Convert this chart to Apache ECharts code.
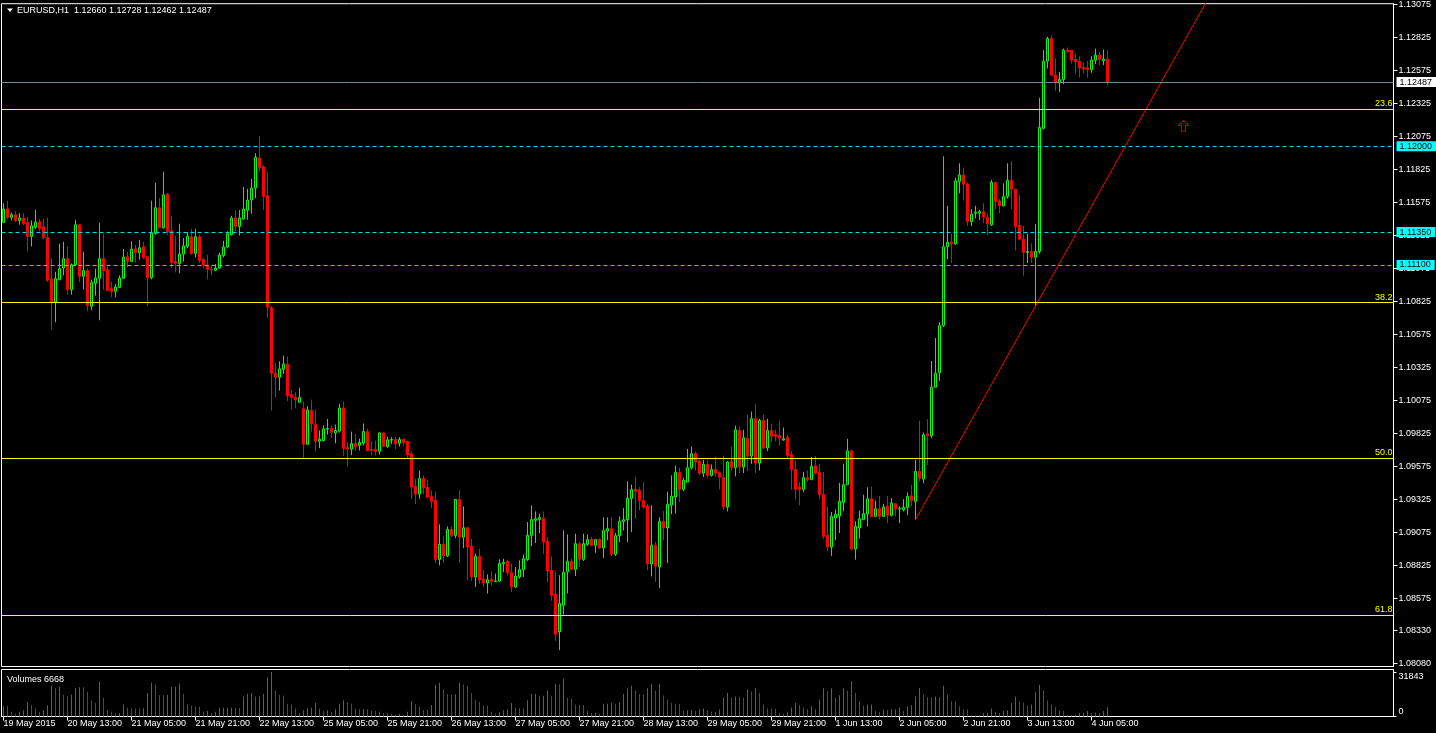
<!DOCTYPE html>
<html><head><meta charset="utf-8">
<script src="https://cdn.jsdelivr.net/npm/echarts@6/dist/echarts.min.js"></script>
<style>html,body{margin:0;padding:0;background:#000;overflow:hidden}#c{width:1436px;height:733px}</style>
</head><body><div id="c"></div>
<script>
const symbolName = 'EURUSD,H1';
const opens = [1.11423,1.11526,1.11461,1.11481,1.11438,1.11456,1.11423,1.11317,1.11385,1.11428,
1.11390,1.11307,1.10994,1.10820,1.10989,1.11077,1.11148,1.10913,1.11102,1.11405,
1.11014,1.11057,1.10787,1.10961,1.10999,1.11148,1.11064,1.10921,1.10900,1.10931,
1.10999,1.11163,1.11127,1.11223,1.11193,1.11239,1.11163,1.11004,1.11339,1.11534,
1.11382,1.11637,1.11360,1.11127,1.11112,1.11183,1.11241,1.11314,1.11188,1.11314,
1.11140,1.11100,1.11067,1.11059,1.11077,1.11173,1.11236,1.11329,1.11456,1.11392,
1.11450,1.11516,1.11594,1.11683,1.11912,1.11844,1.11625,1.10776,1.10279,1.10249,
1.10309,1.10349,1.10117,1.10097,1.10059,1.10011,1.09741,1.09996,1.09890,1.09764,
1.09769,1.09855,1.09860,1.09827,1.09840,1.10016,1.09716,1.09704,1.09746,1.09734,
1.09749,1.09837,1.09701,1.09701,1.09688,1.09827,1.09724,1.09772,1.09777,1.09749,
1.09779,1.09762,1.09668,1.09421,1.09363,1.09481,1.09413,1.09345,1.09315,1.08868,
1.08982,1.08894,1.09095,1.09050,1.09323,1.09037,1.09108,1.08967,1.08735,1.08891,
1.08719,1.08689,1.08717,1.08700,1.08704,1.08836,1.08853,1.08767,1.08659,1.08735,
1.08790,1.08868,1.09050,1.09164,1.09171,1.09179,1.09005,1.08785,1.08604,1.08320,
1.08520,1.08773,1.08854,1.08793,1.08987,1.08869,1.08982,1.09020,1.08975,1.09020,
1.08955,1.09083,1.09101,1.08907,1.09048,1.09156,1.09169,1.09331,1.09399,1.09391,
1.09315,1.09272,1.08833,1.08975,1.08811,1.09156,1.09106,1.09280,1.09341,1.09527,
1.09399,1.09454,1.09563,1.09671,1.09611,1.09522,1.09588,1.09505,1.09550,1.09525,
1.09490,1.09265,1.09611,1.09563,1.09845,1.09568,1.09787,1.09651,1.09934,1.09598,
1.09921,1.09712,1.09845,1.09815,1.09807,1.09772,1.09792,1.09664,1.09550,1.09416,
1.09399,1.09487,1.09474,1.09578,1.09527,1.09361,1.09051,1.08962,1.09182,1.09197,
1.09300,1.09434,1.09691,1.08947,1.09106,1.09169,1.09212,1.09328,1.09194,1.09252,
1.09194,1.09270,1.09202,1.09290,1.09250,1.09244,1.09262,1.09350,1.09308,1.09535,
1.09477,1.09820,1.09805,1.10173,1.10284,1.10640,1.11240,1.11273,1.11260,1.11732,
1.11782,1.11714,1.11429,1.11492,1.11492,1.11503,1.11462,1.11404,1.11727,1.11586,
1.11550,1.11618,1.11742,1.11674,1.11401,1.11295,1.11195,1.11202,1.11159,1.11202,
1.12136,1.12645,1.12817,1.12539,1.12481,1.12507,1.12729,1.12729,1.12660,1.12645,
1.12597,1.12595,1.12582,1.12653,1.12691,1.12648,1.12660];
const highs = [1.11569,1.11587,1.11496,1.11509,1.11493,1.11493,1.11463,1.11438,1.11519,1.11450,
1.11450,1.11458,1.11148,1.11049,1.11261,1.11276,1.11239,1.11112,1.11443,1.11410,
1.11201,1.11072,1.10989,1.11072,1.11420,1.11337,1.11090,1.10971,1.10956,1.11022,
1.11221,1.11201,1.11279,1.11254,1.11289,1.11276,1.11163,1.11587,1.11723,1.11607,
1.11806,1.11645,1.11473,1.11322,1.11413,1.11304,1.11350,1.11375,1.11375,1.11329,
1.11153,1.11178,1.11092,1.11107,1.11193,1.11284,1.11355,1.11473,1.11516,1.11516,
1.11693,1.11678,1.11753,1.11948,1.12079,1.11859,1.11809,1.10790,1.10354,1.10370,
1.10412,1.10405,1.10155,1.10135,1.10170,1.10064,1.10029,1.10079,1.10004,1.09845,
1.09883,1.09933,1.09883,1.09890,1.10047,1.10064,1.09756,1.09837,1.09819,1.09784,
1.09898,1.09860,1.09762,1.09769,1.09830,1.09830,1.09799,1.09794,1.09799,1.09794,
1.09784,1.09769,1.09688,1.09479,1.09542,1.09504,1.09471,1.09391,1.09383,1.09133,
1.09042,1.09118,1.09118,1.09325,1.09391,1.09270,1.09108,1.09025,1.08911,1.08949,
1.08790,1.08755,1.08778,1.08760,1.08868,1.08873,1.08866,1.08836,1.08810,1.08861,
1.08904,1.09151,1.09277,1.09232,1.09214,1.09232,1.09037,1.08891,1.08778,1.08748,
1.09088,1.09058,1.08874,1.09063,1.09000,1.09063,1.09058,1.09038,1.09020,1.09025,
1.09187,1.09187,1.09187,1.09068,1.09194,1.09257,1.09459,1.09436,1.09497,1.09416,
1.09452,1.09290,1.09278,1.09000,1.09187,1.09235,1.09381,1.09505,1.09580,1.09563,
1.09487,1.09706,1.09724,1.09686,1.09626,1.09623,1.09618,1.09588,1.09648,1.09535,
1.09656,1.09613,1.09724,1.09883,1.09876,1.09850,1.09966,1.09989,1.10047,1.09934,
1.09966,1.09934,1.09898,1.09853,1.09921,1.09868,1.09812,1.09689,1.09618,1.09454,
1.09530,1.09542,1.09643,1.09653,1.09593,1.09530,1.09265,1.09227,1.09247,1.09447,
1.09593,1.09782,1.09700,1.09156,1.09239,1.09358,1.09416,1.09421,1.09313,1.09350,
1.09290,1.09350,1.09333,1.09295,1.09270,1.09325,1.09376,1.09434,1.09623,1.09918,
1.09830,1.09931,1.10372,1.10546,1.10667,1.11924,1.11548,1.11336,1.11762,1.11871,
1.11838,1.11724,1.11523,1.11548,1.11518,1.11568,1.11492,1.11745,1.11730,1.11601,
1.11719,1.11871,1.11888,1.11680,1.11631,1.11396,1.11336,1.11265,1.11412,1.12368,
1.12729,1.12830,1.12842,1.12665,1.12565,1.12741,1.12749,1.12729,1.12703,1.12683,
1.12635,1.12648,1.12683,1.12741,1.12716,1.12734,1.12728];
const lows = [1.11418,1.11450,1.11438,1.11425,1.11405,1.11405,1.11203,1.11241,1.11375,1.11355,
1.11294,1.10971,1.10610,1.10666,1.10984,1.11022,1.10875,1.10875,1.11090,1.10969,
1.10913,1.10749,1.10757,1.10868,1.10681,1.10913,1.10900,1.10855,1.10855,1.10926,
1.10996,1.11082,1.11122,1.11120,1.11140,1.11148,1.10787,1.10991,1.11329,1.11380,
1.11375,1.11329,1.11077,1.11044,1.11037,1.11127,1.11228,1.11178,1.11158,1.11115,
1.11077,1.10991,1.11022,1.11052,1.11072,1.11158,1.11228,1.11322,1.11355,1.11324,
1.11443,1.11443,1.11488,1.11607,1.11809,1.11519,1.10699,1.09996,1.10097,1.10148,
1.10274,1.10067,1.10004,1.10014,1.10057,1.09630,1.09736,1.09837,1.09686,1.09711,
1.09762,1.09815,1.09787,1.09749,1.09830,1.09650,1.09572,1.09658,1.09693,1.09693,
1.09731,1.09686,1.09656,1.09656,1.09663,1.09719,1.09714,1.09744,1.09704,1.09724,
1.09731,1.09638,1.09325,1.09287,1.09328,1.09365,1.09335,1.09257,1.08841,1.08823,
1.08841,1.08886,1.09037,1.09030,1.08841,1.08954,1.08709,1.08704,1.08659,1.08684,
1.08659,1.08609,1.08667,1.08697,1.08697,1.08773,1.08747,1.08621,1.08651,1.08722,
1.08735,1.08856,1.08969,1.08992,1.09068,1.08911,1.08697,1.08553,1.08251,1.08180,
1.08450,1.08609,1.08786,1.08743,1.08811,1.08856,1.08972,1.08967,1.08917,1.08947,
1.08879,1.09013,1.08894,1.08894,1.09000,1.09088,1.09000,1.09076,1.09174,1.09240,
1.09252,1.08786,1.08740,1.08697,1.08652,1.09013,1.08841,1.09210,1.09215,1.09303,
1.09386,1.09452,1.09550,1.09542,1.09505,1.09492,1.09487,1.09497,1.09497,1.09399,
1.09245,1.09232,1.09537,1.09497,1.09522,1.09522,1.09537,1.09593,1.09522,1.09542,
1.09706,1.09689,1.09757,1.09765,1.09732,1.09770,1.09631,1.09396,1.09323,1.09278,
1.09379,1.09454,1.09467,1.09512,1.09323,1.09023,1.08930,1.08894,1.09013,1.09068,
1.09232,1.09434,1.08937,1.08866,1.09025,1.09169,1.09118,1.09194,1.09189,1.09169,
1.09189,1.09144,1.09194,1.09194,1.09144,1.09232,1.09202,1.09270,1.09169,1.09459,
1.09446,1.09585,1.09787,1.10173,1.10223,1.10632,1.11144,1.11114,1.11253,1.11644,
1.11588,1.11396,1.11396,1.11454,1.11442,1.11417,1.11328,1.11396,1.11523,1.11492,
1.11543,1.11603,1.11525,1.11210,1.11290,1.11018,1.11114,1.11114,1.10791,1.11185,
1.12128,1.12590,1.12532,1.12421,1.12413,1.12471,1.12708,1.12628,1.12547,1.12522,
1.12552,1.12522,1.12557,1.12623,1.12615,1.12615,1.12462];
const closes = [1.11524,1.11461,1.11481,1.11438,1.11456,1.11413,1.11317,1.11398,1.11425,1.11377,
1.11309,1.10984,1.10820,1.10996,1.11072,1.11148,1.10913,1.11102,1.11405,1.11014,
1.11057,1.10792,1.10966,1.11001,1.11148,1.11059,1.10908,1.10900,1.10933,1.11001,
1.11160,1.11127,1.11221,1.11193,1.11231,1.11155,1.11004,1.11342,1.11534,1.11382,
1.11632,1.11355,1.11120,1.11112,1.11183,1.11244,1.11319,1.11186,1.11314,1.11135,
1.11102,1.11067,1.11062,1.11077,1.11175,1.11236,1.11337,1.11456,1.11392,1.11456,
1.11524,1.11592,1.11683,1.11917,1.11839,1.11620,1.10780,1.10279,1.10249,1.10312,
1.10349,1.10110,1.10097,1.10077,1.10095,1.09741,1.10001,1.09895,1.09764,1.09779,
1.09857,1.09860,1.09832,1.09845,1.10016,1.09711,1.09704,1.09746,1.09724,1.09754,
1.09837,1.09693,1.09696,1.09686,1.09827,1.09724,1.09774,1.09777,1.09744,1.09777,
1.09754,1.09663,1.09416,1.09363,1.09481,1.09411,1.09340,1.09307,1.08868,1.08982,
1.08894,1.09095,1.09050,1.09323,1.09037,1.09108,1.08962,1.08735,1.08891,1.08714,
1.08689,1.08714,1.08702,1.08704,1.08836,1.08846,1.08767,1.08659,1.08740,1.08790,
1.08873,1.09050,1.09169,1.09176,1.09184,1.09000,1.08780,1.08596,1.08301,1.08533,
1.08770,1.08854,1.08793,1.08987,1.08869,1.08987,1.09018,1.08975,1.09018,1.08955,
1.09086,1.09101,1.08907,1.09048,1.09156,1.09169,1.09331,1.09399,1.09384,1.09315,
1.09265,1.08833,1.08975,1.08818,1.09156,1.09106,1.09285,1.09346,1.09527,1.09399,
1.09467,1.09563,1.09669,1.09606,1.09522,1.09588,1.09505,1.09550,1.09522,1.09492,
1.09265,1.09606,1.09563,1.09850,1.09568,1.09790,1.09651,1.09934,1.09598,1.09921,
1.09712,1.09845,1.09802,1.09802,1.09787,1.09782,1.09656,1.09550,1.09399,1.09399,
1.09487,1.09474,1.09573,1.09522,1.09361,1.09043,1.08962,1.09194,1.09210,1.09308,
1.09434,1.09691,1.08947,1.09118,1.09176,1.09214,1.09328,1.09194,1.09252,1.09194,
1.09265,1.09202,1.09295,1.09250,1.09255,1.09262,1.09345,1.09313,1.09535,1.09484,
1.09812,1.09805,1.10173,1.10279,1.10640,1.11238,1.11273,1.11260,1.11737,1.11782,
1.11712,1.11429,1.11485,1.11500,1.11505,1.11462,1.11412,1.11727,1.11581,1.11550,
1.11618,1.11742,1.11674,1.11391,1.11295,1.11195,1.11202,1.11159,1.11202,1.12143,
1.12645,1.12817,1.12539,1.12481,1.12507,1.12729,1.12716,1.12653,1.12640,1.12595,
1.12585,1.12582,1.12653,1.12691,1.12658,1.12660,1.12487];
const volumes = [7250,7250,3370,1810,3370,4400,10100,8290,5960,3370,
4400,8030,22020,20200,21240,15540,14250,15540,20200,20980,
20900,17610,11660,9580,24860,13470,4660,3370,2330,2590,
8810,6220,5960,5700,5650,5960,16840,24090,23050,15280,
15200,15300,21240,21300,23570,16320,8810,7770,6990,6950,
3370,3890,2590,3370,6220,6250,6280,6300,6200,6150,
14250,16320,16840,14250,14300,16060,27970,31843,18650,15540,
15000,9070,8550,5700,2590,4400,5700,6220,9580,5700,
3890,4400,3370,5180,9070,11660,10100,9070,5700,5180,
5300,5180,4400,3890,3630,2590,2500,1810,1300,1810,
1300,3370,11140,8810,6990,4660,4600,8290,22530,24090,
19430,16060,15800,15850,24090,22790,22000,16840,11660,10360,
7770,7700,3370,2070,3110,4400,5180,9580,6480,5700,
5650,11660,16060,16320,14760,14800,18650,14760,23310,22790,
27200,13470,12500,8550,8290,8200,3890,2590,2600,1810,
9070,9100,9840,9070,10360,16060,19940,22020,18650,16060,
15800,20200,23310,18650,23310,15020,12170,9580,9070,9000,
4400,4450,4500,3890,5180,5700,4400,3370,3400,4920,
13470,16840,13470,14250,14200,13470,19430,18130,20200,16840,
8550,5700,5650,5600,2590,1810,3110,6480,9580,8290,
6480,5180,7250,5180,12170,20200,18130,20200,13470,15280,
20200,18650,25120,16840,11140,7770,8550,8600,3890,3370,
4920,4900,5180,5200,6480,3890,6990,8030,14250,20460,
16060,13730,13700,14250,13730,22020,16060,10880,10850,7250,
5180,5150,780,520,780,2590,2600,5700,3370,2590,
3890,4400,9580,14250,10880,9840,7770,8550,17350,22530,
18650,11660,8550,6990,4400,3890,1300,780,1300,2590,
2600,3890,2590,2600,2550,3890,6668];
const tickBars = [0,16,32,48,64,80,96,112,128,144,160,176,192,208,224,240,256,272];
const tickLabels = ['19 May 2015','20 May 13:00','21 May 05:00','21 May 21:00','22 May 13:00','25 May 05:00','25 May 21:00','26 May 13:00','27 May 05:00','27 May 21:00','28 May 13:00','29 May 05:00','29 May 21:00','1 Jun 13:00','2 Jun 05:00','2 Jun 21:00','3 Jun 13:00','4 Jun 05:00'];
const priceTicks = [1.13075,1.12825,1.12575,1.12325,1.12075,1.11825,1.11575,1.11325,1.11075,1.10825,1.10575,1.10325,1.10075,1.09825,1.09575,1.09325,1.09075,1.08825,1.08575,1.08330,1.08080];
const volumeTicks = [0, 31843];
const fibNames = ['23.6','38.2','50.0','61.8'];
const fibValues = [1.12283,1.10815,1.09633,1.08447];
const levelValues = [1.12000,1.11350,1.11100];
const bidPrice = 1.12487;
const trendBars = [228, 310];
const trendPrices = [1.09169, 1.13597];
const arrowBar = 295;
const arrowPrice = 1.12155;

const SLOTS = 348;
const FONT = '"Liberation Sans", Arial, sans-serif';
const cats = Array.from({length: SLOTS}, (_, i) => String(i));
const candleData = opens.map((o, i) => [o, closes[i], lows[i], highs[i]]);
const volColors = volumes.map((v, i) => (i === 0 || v > volumes[i - 1]) ? '#00a000' : '#ff0000');
const last = opens.length - 1;
const isTick = (idx) => tickBars.indexOf(Number(idx)) >= 0;

const markData = [];
fibValues.forEach((v, i) => markData.push({
  yAxis: v, name: fibNames[i],
  lineStyle: {color: '#ffff00', type: 'solid', width: 1},
  label: {show: true, position: 'insideEndTop', formatter: fibNames[i], color: '#ffff00',
    fontSize: 9, fontFamily: FONT, distance: 1}
}));
levelValues.forEach(v => markData.push({
  yAxis: v,
  lineStyle: {color: '#00dede', type: [4, 3], width: 1},
  label: {show: true, position: 'end', formatter: v.toFixed(5), color: '#000',
    backgroundColor: '#00ffff', padding: [1, 4, 0, 3], fontSize: 9, fontFamily: FONT, distance: 3}
}));
markData.push({
  yAxis: bidPrice,
  lineStyle: {color: '#778899', type: 'solid', width: 1},
  label: {show: true, position: 'end', formatter: bidPrice.toFixed(5), color: '#000',
    backgroundColor: '#ffffff', padding: [1, 4, 0, 3], fontSize: 9, fontFamily: FONT, distance: 3}
});

const chart = echarts.init(document.getElementById('c'), null, {renderer: 'canvas', width: 1436, height: 733});
chart.setOption({
  animation: false,
  backgroundColor: '#000000',
  textStyle: {fontFamily: FONT},
  title: [
    {text: symbolName + '  ' + [opens[last], highs[last], lows[last], closes[last]].map(v => v.toFixed(5)).join(' '),
     left: 17, top: 6, padding: 0,
     textStyle: {color: '#ffffff', fontSize: 9, fontWeight: 'normal', fontFamily: FONT}},
    {text: 'Volumes ' + volumes[last], left: 7, top: 675, padding: 0,
     textStyle: {color: '#ffffff', fontSize: 9, fontWeight: 'normal', fontFamily: FONT}}
  ],
  graphic: [{type: 'polygon', shape: {points: [[7, 8.5], [13, 8.5], [10, 12]]}, style: {fill: '#ffffff'}}],
  grid: [
    {left: 1.5, top: 2.5, width: 1392, height: 664, show: true, borderColor: '#ffffff', borderWidth: 1, backgroundColor: '#000'},
    {left: 1.5, top: 669.5, width: 1392, height: 47, show: true, borderColor: '#ffffff', borderWidth: 1, backgroundColor: '#000'}
  ],
  xAxis: [
    {type: 'category', gridIndex: 0, data: cats, boundaryGap: true,
     axisLine: {show: false}, axisTick: {show: false}, axisLabel: {show: false}, splitLine: {show: false}},
    {type: 'category', gridIndex: 1, data: cats, boundaryGap: true,
     axisLine: {show: true, lineStyle: {color: '#ffffff', width: 1}},
     axisTick: {show: true, alignWithLabel: true, interval: (i) => isTick(i), length: 4, lineStyle: {color: '#ffffff'}},
     axisLabel: {show: true, interval: (i) => isTick(i), align: 'left', margin: 3, color: '#ffffff', fontSize: 9, fontFamily: FONT,
       formatter: (val) => tickLabels[tickBars.indexOf(Number(val))]},
     splitLine: {show: false}, splitArea: {show: false}}
  ],
  yAxis: [
    {type: 'value', gridIndex: 0, position: 'right', min: 1.08056, max: 1.13081, scale: true,
     axisLine: {show: true, lineStyle: {color: '#ffffff', width: 1}},
     axisTick: {show: true, customValues: priceTicks, length: 4, lineStyle: {color: '#ffffff'}},
     axisLabel: {show: true, customValues: priceTicks, formatter: (v) => v.toFixed(5), color: '#ffffff', fontSize: 9, fontFamily: FONT, margin: 5},
     splitLine: {show: false}},
    {type: 'value', gridIndex: 1, position: 'right', min: 0, max: 33600,
     axisLine: {show: true, lineStyle: {color: '#ffffff', width: 1}},
     axisTick: {show: true, customValues: volumeTicks, length: 3, lineStyle: {color: '#ffffff'}},
     axisLabel: {show: true, customValues: volumeTicks, formatter: (v) => String(Math.round(v)), color: '#ffffff', fontSize: 9, fontFamily: FONT, margin: 5,
       verticalAlignMinLabel: 'bottom', verticalAlignMaxLabel: 'top'},
     splitLine: {show: false}, splitArea: {show: false}}
  ],
  series: [
    {type: 'candlestick', xAxisIndex: 0, yAxisIndex: 0, data: candleData, barWidth: 2,
     itemStyle: {color: '#000000', color0: '#ff0000', borderColor: '#00ff00', borderColor0: '#ff0000', borderWidth: 1},
     markLine: {symbol: 'none', silent: true, animation: false, precision: 6, z: 10, data: markData}},
    {type: 'line', xAxisIndex: 0, yAxisIndex: 0, data: trendBars.map((b, i) => [b, trendPrices[i]]),
     symbol: 'none', clip: true, lineStyle: {color: '#ff0000', width: 1}, z: 6},
    {type: 'scatter', xAxisIndex: 0, yAxisIndex: 0, data: [[arrowBar, arrowPrice]],
     symbol: 'path://M5,0 L10,5 L7,5 L7,11 L3,11 L3,5 L0,5 Z', symbolSize: [10, 11],
     itemStyle: {color: 'rgba(0,0,0,0)', borderColor: '#ff0000', borderWidth: 1}, z: 6},
    {type: 'bar', name: 'Volumes', xAxisIndex: 1, yAxisIndex: 1, data: volumes, barWidth: 1,
     itemStyle: {color: (p) => volColors[p.dataIndex], borderWidth: 0}}
  ]
});
</script>
</body></html>
